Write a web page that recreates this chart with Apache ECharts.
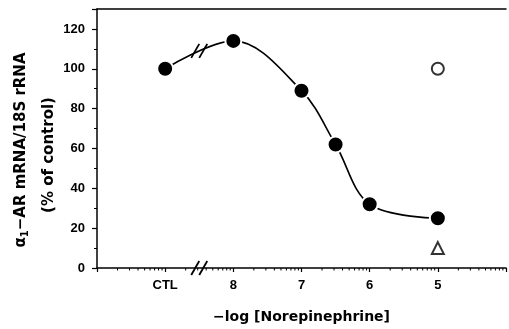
<!DOCTYPE html>
<html>
<head>
<meta charset="utf-8">
<script src="https://cdn.jsdelivr.net/npm/echarts@6/dist/echarts.min.js"></script>
<style>
  html, body { margin: 0; padding: 0; background: #fff; }
  #chart { width: 509px; height: 329px; }
</style>
</head>
<body>
<div id="chart"></div>
<script>
// -log[NE] positions (9 = CTL) and response, % of control
var doseX = [9, 8, 7, 6.5, 6, 5];
var responseY = [100, 114, 89, 62, 32, 25];
// single extra points at 10^-5 M
var openCircle = [[5, 100]];
var openTriangle = [[5, 10]];
var xLabels = { 9: 'CTL', 8: '8', 7: '7', 6: '6', 5: '5' };
// where the axis and curve are broken
var breakX = 8.5;
var breakCurveY = 109;

// log-decade minor ticks along the x axis
var logTicks = [];
for (var d = 10; d > 4; d--) {
  for (var k = 2; k <= 9; k++) logTicks.push([d - Math.log10(k), 0]);
}

var font = 'Liberation Sans, Arial, sans-serif';
var nameFont = 'DejaVu Sans, sans-serif';
var chart = echarts.init(document.getElementById('chart'));

function slashes(params, api) {
  var c = api.coord([api.value(0), api.value(1)]);
  var kids = [];
  [-4, 4].forEach(function (dx) {
    kids.push({
      type: 'line',
      shape: { x1: c[0] + dx - 4, y1: c[1] + 7, x2: c[0] + dx + 4, y2: c[1] - 7 },
      style: { stroke: '#000', lineWidth: 1.8 }
    });
  });
  return { type: 'group', children: kids };
}

chart.setOption({
  animation: false,
  backgroundColor: '#fff',
  grid: { left: 97, right: -3, top: 9, bottom: 61 },
  // y axis title, two rotated lines
  graphic: [{
    type: 'text', x: 21, y: 150, rotation: Math.PI / 2,
    style: {
      text: '{a|α}{s|1}{a|−AR mRNA/18S rRNA}',
      align: 'center', verticalAlign: 'middle',
      rich: {
        a: { fontFamily: nameFont, fontWeight: 'bold', fontSize: 15, lineHeight: 18, fill: '#000' },
        s: { fontFamily: nameFont, fontWeight: 'bold', fontSize: 10, lineHeight: 18, verticalAlign: 'bottom', fill: '#000' }
      }
    }
  }, {
    type: 'text', x: 49, y: 155, rotation: Math.PI / 2,
    style: {
      text: '(% of control)', align: 'center', verticalAlign: 'middle',
      fontFamily: nameFont, fontWeight: 'bold', fontSize: 15, fill: '#000'
    }
  }],
  xAxis: [{
    type: 'value', min: 4, max: 10, interval: 1, inverse: true,
    axisLine: { lineStyle: { color: '#000', width: 1.5 } },
    axisTick: { length: 4, lineStyle: { color: '#000', width: 1.2 } },
    splitLine: { show: false },
    axisLabel: {
      margin: 11, color: '#000', fontFamily: font, fontWeight: 'bold', fontSize: 13,
      formatter: function (v) { return xLabels[v] || ''; }
    },
    name: '−log [Norepinephrine]',
    nameLocation: 'middle', nameGap: 42,
    nameTextStyle: { color: '#000', fontFamily: nameFont, fontWeight: 'bold', fontSize: 14 }
  }, {
    type: 'value', min: 4, max: 10, inverse: true, position: 'top',
    axisLine: { show: true, lineStyle: { color: '#000', width: 1.5 } },
    axisTick: { show: false }, axisLabel: { show: false }, splitLine: { show: false }
  }],
  yAxis: {
    type: 'value', min: 0, max: 130, interval: 20,
    axisLine: { show: true, lineStyle: { color: '#000', width: 1.5 } },
    axisTick: { show: true, length: 5, lineStyle: { color: '#000', width: 1.2 } },
    minorTick: { show: true, splitNumber: 2, length: 3, lineStyle: { color: '#000', width: 1 } },
    splitLine: { show: false },
    axisLabel: {
      margin: 12, color: '#000', fontFamily: font, fontWeight: 'bold', fontSize: 13,
      formatter: function (v) { return v > 120 ? '' : String(v); }
    }
  },
  series: [{
    type: 'line',
    data: doseX.map(function (x, i) { return [x, responseY[i]]; }),
    smooth: 0.35,
    symbol: 'circle', symbolSize: 16,
    lineStyle: { color: '#000', width: 1.6 },
    itemStyle: { color: '#000', borderColor: '#fff', borderWidth: 2 },
    z: 3
  }, {
    type: 'scatter', data: openCircle, symbol: 'circle', symbolSize: 12,
    itemStyle: { color: '#fff', borderColor: '#000', borderWidth: 2 }
  }, {
    type: 'scatter', data: openTriangle, symbol: 'triangle', symbolSize: 12,
    itemStyle: { color: '#fff', borderColor: '#000', borderWidth: 2 }
  }, {
    type: 'custom', data: logTicks, silent: true, clip: false,
    renderItem: function (params, api) {
      var c = api.coord([api.value(0), 0]);
      return { type: 'line', shape: { x1: c[0], y1: c[1], x2: c[0], y2: c[1] + 2.5 },
        style: { stroke: '#000', lineWidth: 1 } };
    }
  }, {
    type: 'custom', data: [[breakX, breakCurveY], [breakX, 0]], silent: true, clip: false,
    renderItem: slashes, z: 5
  }]
});
</script>
</body>
</html>
